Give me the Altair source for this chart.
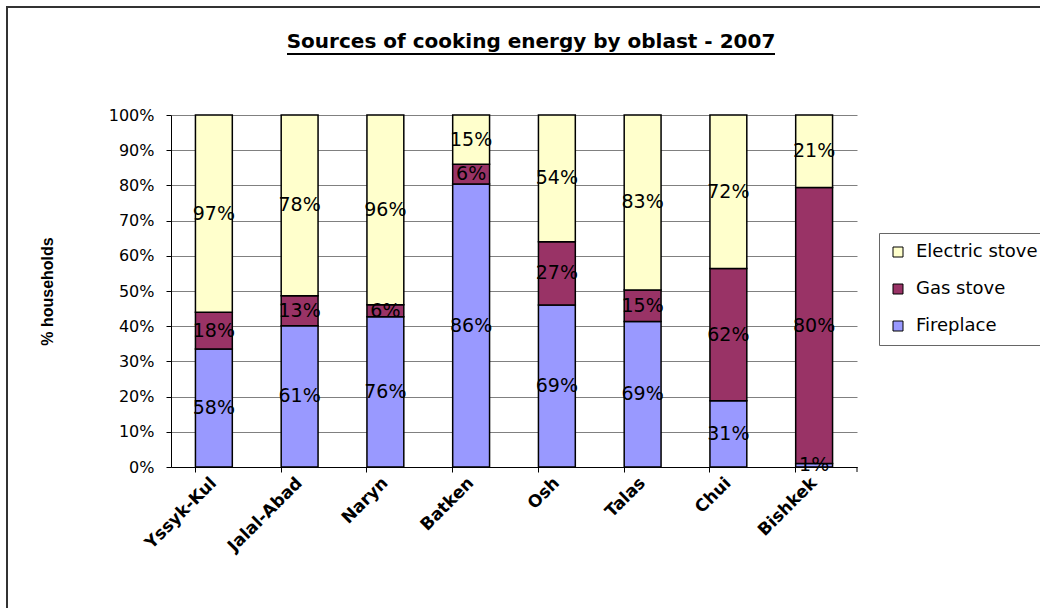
import altair as alt
import pandas as pd

# Survey shares (% of households) by oblast; each column is stacked to 100%
regions = ["Yssyk-Kul", "Jalal-Abad", "Naryn", "Batken", "Osh", "Talas", "Chui", "Bishkek"]
fireplace = [58, 61, 76, 86, 69, 69, 31, 1]
gas_stove = [18, 13, 6, 6, 27, 15, 62, 80]
electric_stove = [97, 78, 96, 15, 54, 83, 72, 21]

sources = ["Fireplace", "Gas stove", "Electric stove"]
legend_order = ["Electric stove", "Gas stove", "Fireplace"]
legend_colors = ["#FFFFCC", "#993366", "#9999FF"]
y_ticks = [i / 10 for i in range(11)]

title_text = "Sources of cooking energy by oblast - 2007"
y_title = "% households"

rows = []
for i, region in enumerate(regions):
    for k, (src, vals) in enumerate(zip(sources, [fireplace, gas_stove, electric_stove])):
        rows.append({"region": region, "source": src, "order": k, "value": vals[i]})
df = pd.DataFrame(rows)

WIDE = "DejaVu Sans"
NARROW = "Liberation Sans"
W, H = 686, 352
LEFT, TOP = 171, 115

x_enc = alt.X(
    "region:N",
    sort=regions,
    title=None,
    scale=alt.Scale(paddingInner=0.57, paddingOuter=0.285),
    axis=alt.Axis(
        labelAngle=-45,
        labelAlign="right",
        labelBaseline="middle",
        labelFont=WIDE,
        labelFontSize=17,
        labelFontWeight="bold",
        labelColor="black",
        labelPadding=8,
        labelOverlap=False,
        domainColor="black",
        tickColor="black",
        tickSize=5,
        bandPosition=0,
        grid=False,
    ),
)

y_axis = alt.Axis(
    values=y_ticks,
    format=".0%",
    labelFont=WIDE,
    labelFontSize=16,
    labelColor="black",
    labelPadding=12,
    domainColor="black",
    tickColor="black",
    tickSize=5,
    gridColor="#808080",
    gridWidth=1,
    title=y_title,
    titleFont=NARROW,
    titleFontSize=16,
    titleFontWeight="bold",
    titleColor="black",
    titleX=-124,
    titleY=176,
    titleBaseline="middle",
)
y_scale = alt.Scale(domain=[0, 1], nice=False)

base = alt.Chart(df).transform_stack(
    stack="value",
    groupby=["region"],
    sort=[alt.SortField("order", order="ascending")],
    as_=["y0", "y1"],
    offset="normalize",
).transform_calculate(
    mid="(datum.y0 + datum.y1) / 2",
    label="datum.value + '%'",
)

bars = base.mark_bar(stroke="black", strokeWidth=1.5).encode(
    x=x_enc,
    y=alt.Y("y0:Q", scale=y_scale, axis=y_axis),
    y2="y1:Q",
    color=alt.Color(
        "source:N",
        scale=alt.Scale(domain=legend_order, range=legend_colors),
        legend=alt.Legend(
            title=None,
            orient="none",
            legendX=708,
            legendY=118,
            strokeColor="#666666",
            padding=10,
            symbolType="square",
            symbolSize=100,
            symbolStrokeColor="black",
            symbolStrokeWidth=1,
            labelFont=WIDE,
            labelFontSize=18,
            labelColor="black",
            labelOffset=9,
            rowPadding=19,
            labelLimit=300,
        ),
    ),
)

labels = base.mark_text(font=WIDE, fontSize=19, color="black", baseline="middle").encode(
    x=x_enc,
    y=alt.Y("mid:Q", scale=y_scale, axis=y_axis),
    text="label:N",
)

one = pd.DataFrame({"k": [0]})

# closing tick at the right end of the category axis
end_tick = alt.Chart(one).mark_rule(color="black").encode(
    x=alt.value(W), y=alt.value(H), y2=alt.value(H + 5)
)

frame = alt.Chart(one).mark_rect(fillOpacity=0, stroke="#333333", strokeWidth=2).encode(
    x=alt.value(7 - LEFT), x2=alt.value(1060 - LEFT),
    y=alt.value(7 - TOP), y2=alt.value(620 - TOP),
)

title = alt.Chart(one).mark_text(
    font=WIDE, fontSize=20, fontWeight="bold", color="black", baseline="middle"
).encode(x=alt.value(531 - LEFT), y=alt.value(42 - TOP), text=alt.value(title_text))

underline = alt.Chart(one).mark_rule(color="black", strokeWidth=2).encode(
    x=alt.value(287 - LEFT), x2=alt.value(775 - LEFT), y=alt.value(54 - TOP)
)

chart = alt.layer(frame, bars, labels, end_tick, title, underline).properties(
    width=W,
    height=H,
    autosize=alt.AutoSizeParams(type="none"),
    padding={"left": LEFT, "top": TOP, "right": 1040 - LEFT - W, "bottom": 608 - TOP - H},
    background="white",
).configure_view(stroke="transparent")

chart.save("out.html", embed_options={"renderer": "svg", "actions": False})
